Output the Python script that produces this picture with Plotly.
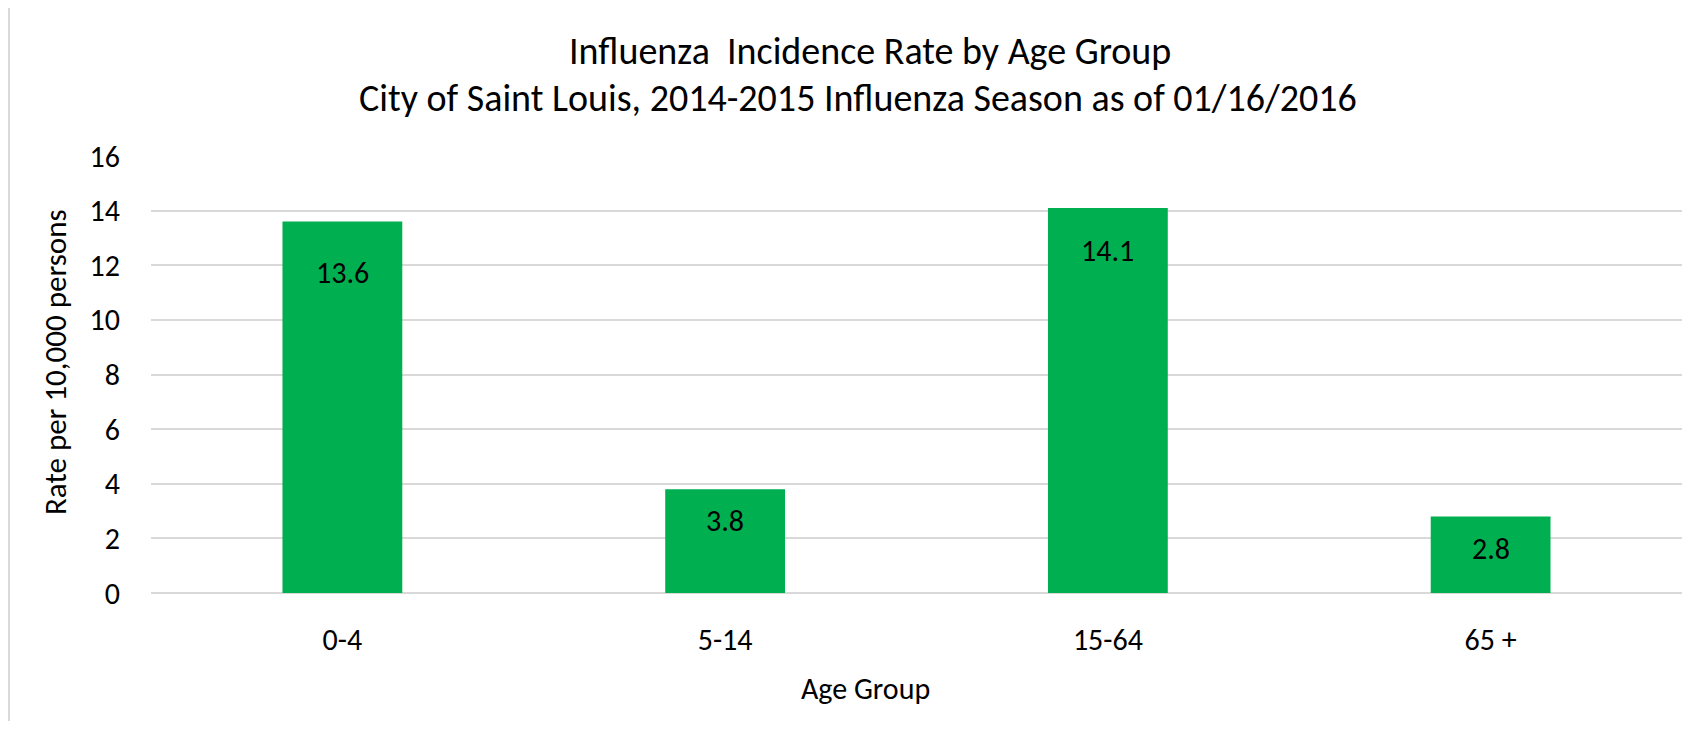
import plotly.graph_objects as go

categories = ["0-4", "5-14", "15-64", "65 +"]
rates = [13.6, 3.8, 14.1, 2.8]
label_text = ["13.6", "3.8", "14.1", "2.8"]
label_offsets = [-51, -31, -43, -32]  # px shift of each value label below bar top
y_ticks = [0, 2, 4, 6, 8, 10, 12, 14, 16]

title_line1 = "Influenza  Incidence Rate by Age Group"
title_line2 = "City of Saint Louis, 2014-2015 Influenza Season as of 01/16/2016"
x_title = "Age Group"
y_title = "Rate per 10,000 persons"

FONT = "Carlito, Calibri, Lato, sans-serif"
OFF = 8  # page body margin
W, H = 1705 - 2 * OFF, 729 - 2 * OFF
# plot area in page pixels: x 151..1682, y 156..593
L = 151 - OFF
R = W - (1682 - OFF)
T = 156 - OFF
B = H - (593 - OFF)
ph = H - T - B
pw = W - L - R

def py(pix):
    return (H - B - (pix - OFF)) / ph

def px(pix):
    return (pix - OFF - L) / pw

AX = 30
TI = 38

fig = go.Figure()
fig.add_trace(go.Bar(
    x=categories, y=rates,
    marker=dict(color="#00B050", line=dict(width=0)),
    width=0.313,
    hoverinfo="x+y",
))

annotations = []
for c, v, t, off in zip(categories, rates, label_text, label_offsets):
    annotations.append(dict(x=c, y=v, xref="x", yref="y", text=t, showarrow=False,
                            yanchor="middle", yshift=off,
                            font=dict(family=FONT, size=AX, color="#000000")))

annotations += [
    dict(x=px(870), y=py(51), xref="paper", yref="paper", text=title_line1, showarrow=False,
         xanchor="center", yanchor="middle", font=dict(family=FONT, size=TI, color="#000000")),
    dict(x=px(858), y=py(98), xref="paper", yref="paper", text=title_line2, showarrow=False,
         xanchor="center", yanchor="middle", font=dict(family=FONT, size=TI, color="#000000")),
    dict(x=px(865), y=py(688), xref="paper", yref="paper", text=x_title, showarrow=False,
         xanchor="center", yanchor="middle", font=dict(family=FONT, size=AX, color="#000000")),
    dict(x=px(55), y=py(362), xref="paper", yref="paper", text=y_title, showarrow=False,
         xanchor="center", yanchor="middle", textangle=-90,
         font=dict(family=FONT, size=31, color="#000000")),
]

fig.update_layout(
    width=W, height=H,
    margin=dict(l=L, r=R, t=T, b=B, pad=0),
    paper_bgcolor="white", plot_bgcolor="white",
    showlegend=False,
    annotations=annotations,
    font=dict(family=FONT, size=AX, color="#000000"),
    shapes=[
        dict(type="line", xref="paper", yref="paper", x0=px(8), x1=px(1705), y0=py(6), y1=py(6),
             line=dict(color="#d9d9d9", width=2)),
        dict(type="line", xref="paper", yref="paper", x0=px(9), x1=px(9), y0=py(6), y1=py(729),
             line=dict(color="#d9d9d9", width=2)),
    ],
)
fig.update_xaxes(showgrid=False, showline=False, zeroline=False, ticks="",
                 ticklabelstandoff=26, tickfont=dict(family=FONT, size=AX, color="#000000"))
fig.update_yaxes(range=[0, 16], tickvals=y_ticks, showgrid=True, gridcolor="#d9d9d9", gridwidth=2,
                 zeroline=True, zerolinecolor="#d9d9d9", zerolinewidth=2, showline=False, ticks="",
                 ticklabelstandoff=30, tickfont=dict(family=FONT, size=AX, color="#000000"))

fig.write_html("out.html")
